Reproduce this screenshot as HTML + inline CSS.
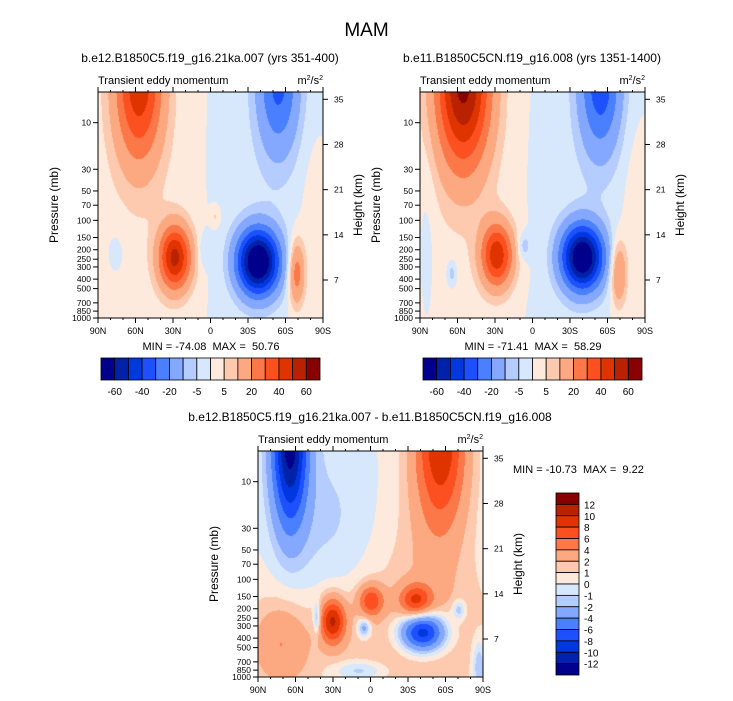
<!DOCTYPE html>
<html><head><meta charset="utf-8">
<style>
body{margin:0;background:#fff;}
#root{position:relative;width:733px;height:701px;overflow:hidden;font-family:"Liberation Sans",sans-serif;color:#000;}
.t{position:absolute;white-space:nowrap;}
canvas{position:absolute;}
svg{position:absolute;left:0;top:0;}
text{white-space:pre;}
</style></head><body>
<div id="root">
<div class="t" style="left:0;width:733px;text-align:center;top:20px;font-size:19px;">MAM</div>
<canvas id="c0" width="225" height="226" style="left:98px;top:92px"></canvas>
<canvas id="c1" width="225" height="226" style="left:420px;top:92px"></canvas>
<canvas id="c2" width="225" height="226" style="left:258px;top:451px"></canvas>
<svg id="ov" width="733" height="701"></svg>
</div>
<script>
// ---- data: levels and colors ----
const levelsTop=[-60,-50,-40,-30,-20,-10,-5,0,5,10,20,30,40,50,60];
const levelsDiff=[-12,-10,-8,-6,-4,-2,-1,0,1,2,4,6,8,10,12];
const colors=["#00008c","#0022a8","#0038e0","#1e50ff","#4a80ff","#84a8ff","#b4ccff","#d8e8fc","#feeadc","#fdcab0","#fca982","#fc7848","#fc5020","#e03400","#b82200","#880000"];
const topBarLabels=["-60","-40","-20","-5","5","20","40","60"];
const diffBarLabels=["12","10","8","6","4","2","1","0","-1","-2","-4","-6","-8","-10","-12"];
const latLabels=["90N","60N","30N","0","30S","60S","90S"];
const presTicks=[10,30,50,70,100,150,200,250,300,400,500,700,850,1000];
const heightTicks=[35,28,21,14,7];
// blobs: [amplitude, x (0=90N,1=90S), y (0=top,1=1000mb), sx, sy]
const blobsLeft=[[46,0.18,-0.05,0.075,0.25],[-32,0.8,-0.05,0.065,0.22],[52,0.34,0.73,0.05,0.1],[-76,0.71,0.75,0.065,0.1],[26,0.88,0.8,0.025,0.1],[2.5,0.2,0.5,0.25,0.6],[-2.5,0.68,0.5,0.18,0.6],[-6,0.47,0.7,0.02,0.05],[6,0.52,0.55,0.015,0.03],[-3,0.08,0.7,0.04,0.1],[3,0.95,0.6,0.04,0.3]];
const blobsRight=[[62,0.19,-0.05,0.085,0.27],[-36,0.8,-0.05,0.065,0.22],[46,0.34,0.72,0.05,0.1],[-73,0.72,0.73,0.065,0.1],[22,0.88,0.8,0.025,0.1],[2.5,0.2,0.45,0.25,0.6],[-2.5,0.66,0.5,0.18,0.6],[-9,0.14,0.8,0.015,0.04],[-9,0.46,0.68,0.02,0.04],[-3,0.03,0.6,0.03,0.3],[3,0.95,0.5,0.04,0.3]];
const blobsDiff=[[-13,0.14,-0.05,0.055,0.26],[9.5,0.81,-0.05,0.08,0.27],[9.5,0.33,0.75,0.04,0.07],[6.5,0.5,0.66,0.04,0.05],[7,0.7,0.66,0.05,0.05],[-11,0.73,0.8,0.07,0.06],[-4,0.26,0.74,0.012,0.05],[-3,0.89,0.7,0.02,0.03],[3,0.1,0.85,0.08,0.12],[-2.5,0.45,0.97,0.08,0.03],[1.6,0.5,0.85,0.5,0.25],[-1.3,0.3,0.35,0.15,0.3],[1.2,0.75,0.5,0.15,0.4],[-4,0.47,0.78,0.02,0.03],[-3,0.98,0.95,0.02,0.08]];
function field(blobs,x,y){let v=0;for(const b of blobs){const dx=(x-b[1])/b[3],dy=(y-b[2])/b[4];v+=b[0]*Math.exp(-0.5*(dx*dx+dy*dy));}return v;}
function drawPanel(id,blobs,levels){
 const c=document.getElementById(id),g=c.getContext('2d');const W=c.width,H=c.height;
 const img=g.createImageData(W,H);
 const rgb=colors.map(h=>[parseInt(h.substr(1,2),16),parseInt(h.substr(3,2),16),parseInt(h.substr(5,2),16)]);
 for(let j=0;j<H;j++)for(let i=0;i<W;i++){
  const v=field(blobs,i/W,j/H);let k=0;while(k<levels.length&&v>=levels[k])k++;
  const p=(j*W+i)*4;img.data[p]=rgb[k][0];img.data[p+1]=rgb[k][1];img.data[p+2]=rgb[k][2];img.data[p+3]=255;}
 g.putImageData(img,0,0);
}
drawPanel('c0',blobsLeft,levelsTop);
drawPanel('c1',blobsRight,levelsTop);
drawPanel('c2',blobsDiff,levelsDiff);
const NS="http://www.w3.org/2000/svg",ov=document.getElementById('ov');
function el(tag,a,txt){const e=document.createElementNS(NS,tag);for(const k in a)e.setAttribute(k,a[k]);if(txt!==undefined)e.textContent=txt;ov.appendChild(e);return e;}
const pTop=4.85;
function yP(p,y0){return y0+226*(Math.log10(p)-Math.log10(pTop))/(3-Math.log10(pTop));}
function yH(h,y0){return y0+7.3+(35-h)*(188-7.3)/28;}
function axes(x0,y0,name,sub){
 const r=el('rect',{x:x0,y:y0,width:225,height:226,fill:'none',stroke:'#000','stroke-width':1});
 
 latLabels.forEach((l,i)=>{const x=x0+i*225/6;
  el('line',{x1:x,x2:x,y1:y0+226,y2:y0+231,stroke:'#000'});el('line',{x1:x,x2:x,y1:y0,y2:y0-5,stroke:'#000'});
  const t=el('text',{x:x,y:y0+242,'font-size':9,'text-anchor':'middle'},l);
  });
 for(let i=0;i<=18;i++){const x=x0+i*225/18;el('line',{x1:x,x2:x,y1:y0+226,y2:y0+228,stroke:'#000'});el('line',{x1:x,x2:x,y1:y0,y2:y0-2,stroke:'#000'});}
 presTicks.forEach(p=>{const y=yP(p,y0);el('line',{x1:x0-5,x2:x0,y1:y,y2:y,stroke:'#000'});
  const t=el('text',{x:x0-7,y:y+3,'font-size':8.5,'text-anchor':'end'},p);
  });
 heightTicks.forEach(h=>{const y=yH(h,y0);el('line',{x1:x0+225,x2:x0+230,y1:y,y2:y,stroke:'#000'});
  const t=el('text',{x:x0+236,y:y+3,'font-size':8.5},h);
  });
 let t=el('text',{x:x0-40,y:y0+113,'font-size':12,'text-anchor':'middle',transform:`rotate(-90 ${x0-40} ${y0+113})`},'Pressure (mb)');
 
 t=el('text',{x:x0+264,y:y0+113,'font-size':12,'text-anchor':'middle',transform:`rotate(-90 ${x0+264} ${y0+113})`},'Height (km)');
 
 t=el('text',{x:x0,y:y0-8,'font-size':11},'Transient eddy momentum');
 
 t=el('text',{x:x0+225,y:y0-8,'font-size':11,'text-anchor':'end'});
 t.innerHTML='m<tspan dy="-4" font-size="7">2</tspan><tspan dy="4">/s</tspan><tspan dy="-4" font-size="7">2</tspan>';
 
 t=el('text',{x:x0+112,y:y0-30,'font-size':12,'text-anchor':'middle'},sub);
 
}
axes(98,92,'left','b.e12.B1850C5.f19_g16.21ka.007 (yrs 351-400)');
axes(420,92,'right','b.e11.B1850C5CN.f19_g16.008 (yrs 1351-1400)');
axes(258,451,'diff','b.e12.B1850C5.f19_g16.21ka.007 - b.e11.B1850C5CN.f19_g16.008');
function hbar(x0,y0,mm){
 const w=219/16;
 colors.forEach((c,i)=>{const r=el('rect',{x:x0+i*w,y:y0,width:w,height:22,fill:c,stroke:'#000','stroke-width':0.8});
  });
 topBarLabels.forEach((l,i)=>{const t=el('text',{x:x0+w*(1+2*i),y:y0+37,'font-size':10,'text-anchor':'middle'},l);
  });
 const t=el('text',{x:x0+110,y:y0-8,'font-size':11,'text-anchor':'middle'},mm);
 
}
hbar(101,358,'MIN = -74.08  MAX =  50.76');
hbar(423,358,'MIN = -71.41  MAX =  58.29');
const h=182/16;
colors.slice().reverse().forEach((c,i)=>{const r=el('rect',{x:556,y:493+i*h,width:23,height:h,fill:c,stroke:'#000','stroke-width':0.8});
 });
diffBarLabels.forEach((l,i)=>{const t=el('text',{x:584,y:493+h*(i+1)+4,'font-size':10},l);
 });
const mm=el('text',{x:513,y:473,'font-size':11},'MIN = -10.73  MAX =  9.22');

</script>
</body></html>
